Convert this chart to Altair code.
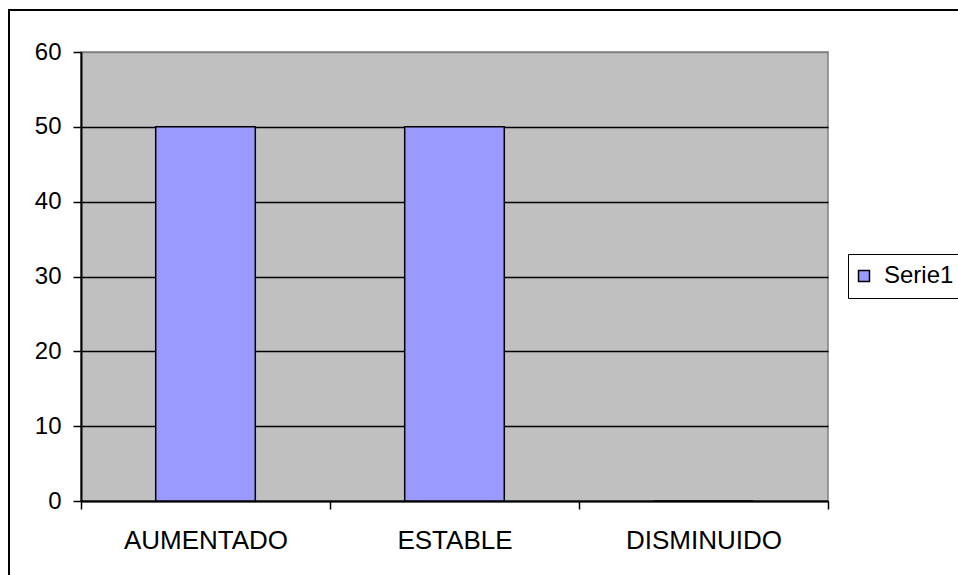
import altair as alt
import pandas as pd

# Chart values
categories = ["AUMENTADO", "ESTABLE", "DISMINUIDO"]
values = [50, 50, 0]
series_name = "Serie1"
y_ticks = [0, 10, 20, 30, 40, 50, 60]

df = pd.DataFrame({
    "categoria": categories,
    "valor": values,
    "serie": [series_name] * len(categories),
})

FONT = "Liberation Sans"
BAR_COLOR = "#9999FF"

# Outer frame around the whole chart (pixel offsets relative to the plot area)
frame = alt.Chart(pd.DataFrame({"k": [0]})).mark_rect(
    fillOpacity=0, stroke="black", strokeWidth=2
).encode(
    x=alt.value(-72), x2=alt.value(900),
    y=alt.value(-42), y2=alt.value(560),
)

bars = alt.Chart(df).mark_bar(
    width=alt.RelativeBandSize(0.4), stroke="black", strokeWidth=1.5
).encode(
    x=alt.X(
        "categoria:N", sort=categories,
        scale=alt.Scale(paddingInner=0, paddingOuter=0),
        axis=alt.Axis(
            title=None, labelAngle=0, tickBand="extent", tickSize=8,
            labelPadding=18, labelFontSize=26, labelFont=FONT,
            labelColor="black", grid=False, domainColor="black",
            domainWidth=2, tickColor="black", tickWidth=1.5,
        ),
    ),
    y=alt.Y(
        "valor:Q",
        scale=alt.Scale(domain=[0, 60], nice=False),
        axis=alt.Axis(
            title=None, values=y_ticks, tickSize=8, labelPadding=12,
            labelFontSize=24, labelFont=FONT, labelColor="black",
            domainColor="black", domainWidth=2, tickColor="black",
            tickWidth=1.5, grid=True, gridWidth=1.5,
            gridColor=alt.condition(
                alt.datum.value == 60, alt.value("#808080"), alt.value("black")
            ),
        ),
    ),
    color=alt.Color(
        "serie:N",
        scale=alt.Scale(domain=[series_name], range=[BAR_COLOR]),
        legend=alt.Legend(
            title=None, orient="none", legendX=767, legendY=202,
            strokeColor="black", fillColor="white", padding=10,
            symbolType="square", symbolSize=121, symbolStrokeColor="black",
            symbolStrokeWidth=1.5, symbolOffset=-6, labelFontSize=24,
            labelFont=FONT, labelColor="black", labelOffset=8,
        ),
    ),
)

chart = alt.layer(frame, bars).properties(
    width=747,
    height=449,
    autosize=alt.AutoSizeParams(type="none"),
    padding={"left": 81, "top": 52, "right": 130, "bottom": 74},
    background="white",
).configure_view(
    fill="#C0C0C0", stroke="#808080", strokeWidth=1.5
)

chart.save("out.html", embed_options={"renderer": "svg", "actions": False})
